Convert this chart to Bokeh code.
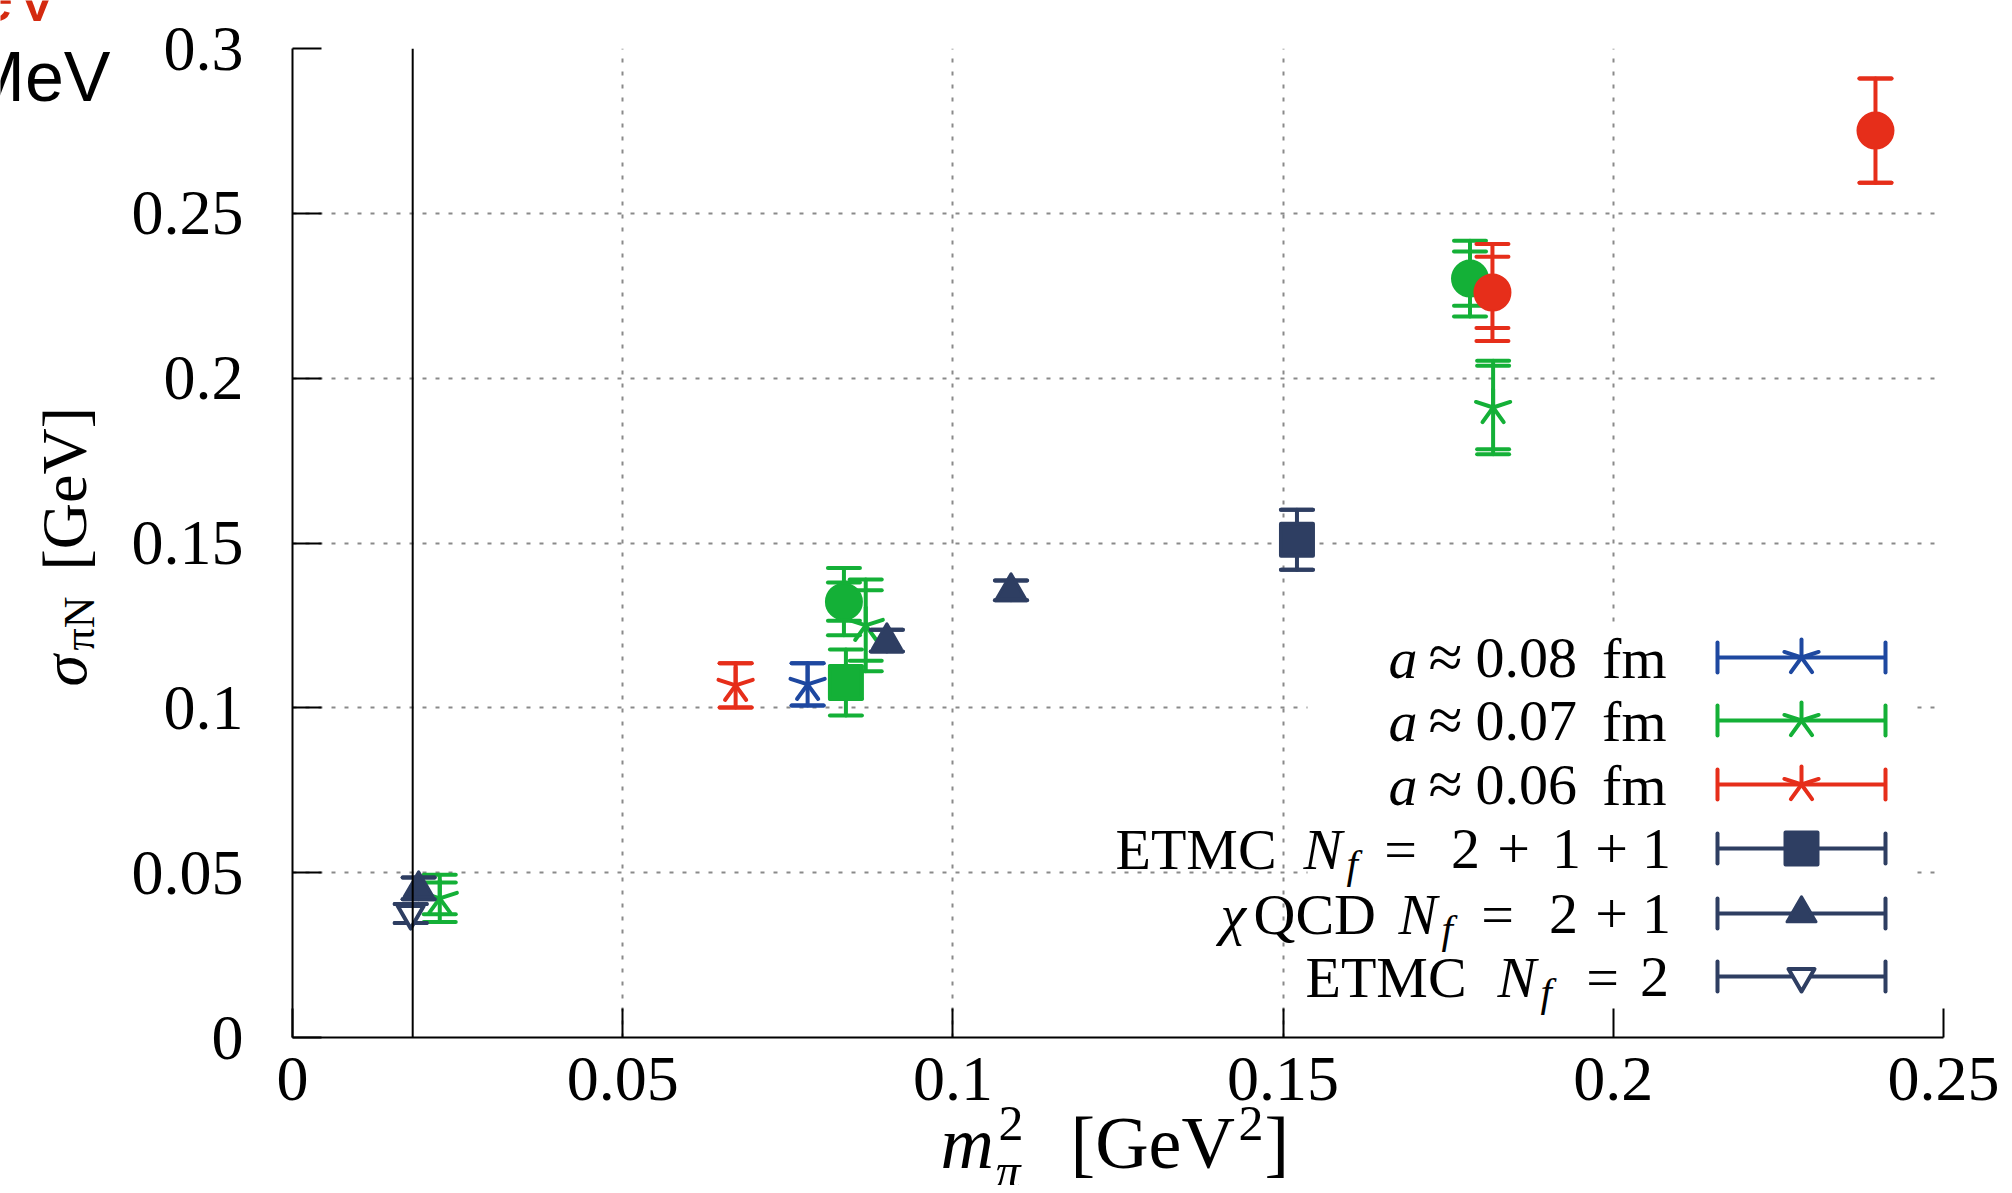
import numpy as np
from bokeh.plotting import figure
from bokeh.layouts import column
from bokeh.models import Label, Span, FixedTicker, Range1d, Plot
from bokeh.embed import file_html
from bokeh.resources import INLINE

# ---------------- data ----------------
# a ~ 0.08 fm (blue asterisks)
a008_x = [0.0780]
a008_y = [0.1071]
a008_err_stat = [0.0064]
a008_err_tot = [0.0064]

# a ~ 0.07 fm (green asterisks)
a007_x = [0.0223, 0.0868, 0.1818]
a007_y = [0.0422, 0.1250, 0.1911]
a007_err_stat = [0.0048, 0.0107, 0.0127]
a007_err_tot = [0.0072, 0.0139, 0.0142]

# a ~ 0.06 fm (red asterisks)
a006_x = [0.0671]
a006_y = [0.1068]
a006_err_stat = [0.0067]
a006_err_tot = [0.0067]

# green filled circles
gcirc_x = [0.0835, 0.1783]
gcirc_y = [0.1322, 0.2302]
gcirc_err_stat = [0.0058, 0.0082]
gcirc_err_tot = [0.0102, 0.0115]

# red filled circles
rcirc_x = [0.1817, 0.2397]
rcirc_y = [0.2260, 0.2751]
rcirc_err_stat = [0.0108, 0.0158]
rcirc_err_tot = [0.0147, 0.0158]

# green filled square
gsq_x = [0.0838]
gsq_y = [0.1077]
gsq_err_stat = [0.0050]
gsq_err_tot = [0.0100]

# ETMC Nf=2+1+1
etmc211_x = [0.1521]
etmc211_y = [0.1510]
etmc211_err = [0.0091]

# chiQCD Nf=2+1
chiqcd_x = [0.0191, 0.0900, 0.1088]
chiqcd_y = [0.0452, 0.1204, 0.1356]
chiqcd_err = [0.0033, 0.0033, 0.0030]

# ETMC Nf=2
etmc2_x = [0.0179]
etmc2_y = [0.0376]
etmc2_err = [0.0029]

PHYS_MPI2 = 0.0182

x_ticks = [0.0, 0.05, 0.1, 0.15, 0.2, 0.25]
x_tick_labels = ["0", "0.05", "0.1", "0.15", "0.2", "0.25"]
y_ticks = [0.0, 0.05, 0.1, 0.15, 0.2, 0.25, 0.3]
y_tick_labels = ["0", "0.05", "0.1", "0.15", "0.2", "0.25", "0.3"]

# ---------------- styling ----------------
BLUE = "#1e48a0"
GREEN = "#14b037"
RED = "#e62e1a"
NAVY = "#2e3e62"
SERIF = "Liberation Serif"
BL_SHIFT = 0.25   # compensation so that the anchor sits on the text baseline

W, H = 2004, 1185
# frame geometry (canvas pixels)
FL, FR, FB, FT = 292, 1943, 1037, 48
XMAX, YMAX = 0.25, 0.3


def rx(px):
    return (px - FL) / (FR - FL) * XMAX


def ry(py):
    return (FB - py) / (FB - FT) * YMAX


p = figure(frame_width=FR - FL, frame_height=FB - FT,
           min_border_left=FL, min_border_right=W - FR,
           min_border_top=FT, min_border_bottom=H - FB,
           x_range=Range1d(0, XMAX), y_range=Range1d(0, YMAX),
           output_backend="svg", toolbar_location=None)
p.outline_line_color = None
p.background_fill_color = "white"
p.border_fill_color = "white"

for ax, ticks, labels, standoff in ((p.xaxis, x_ticks, x_tick_labels, 20),
                                    (p.yaxis, y_ticks, y_tick_labels, 49)):
    ax.ticker = FixedTicker(ticks=ticks)
    ax.major_label_overrides = {t: l for t, l in zip(ticks, labels)}
    ax.axis_line_width = 2
    ax.axis_line_color = "black"
    ax.major_tick_line_width = 2
    ax.major_tick_line_color = "black"
    ax.major_tick_in = 29
    ax.major_tick_out = 0
    ax.minor_tick_line_color = None
    ax.major_label_text_font = SERIF
    ax.major_label_text_font_size = "64px"
    ax.major_label_text_color = "black"
    ax.major_label_standoff = standoff

p.xgrid.ticker = FixedTicker(ticks=x_ticks)
p.ygrid.ticker = FixedTicker(ticks=y_ticks)
for g in (p.xgrid, p.ygrid):
    g.grid_line_color = "#8a8a8a"
    g.grid_line_width = 2
    g.grid_line_dash = "4 9"

# legend background (white box hiding the grid)
p.quad(left=[rx(1307)], right=[rx(1913)], bottom=[0], top=[ry(628)],
       fill_color="white", line_color=None)

p.add_layout(Span(location=PHYS_MPI2, dimension="height",
                  line_color="black", line_width=2))


def errorbars(x, y, es, et, color):
    x = np.asarray(x, float)
    y = np.asarray(y, float)
    es = np.asarray(es, float)
    et = np.asarray(et, float)
    p.segment(x0=x, y0=y - et, x1=x, y1=y + et, line_color=color,
              line_width=4, line_cap="round")
    cx = np.concatenate([x, x, x, x])
    cy = np.concatenate([y + et, y - et, y + es, y - es])
    p.scatter(x=cx, y=cy, marker="dash", size=32, line_color=color,
              line_width=4, line_cap="round")


STAR_ANGLES = [90, 18, 162, 234, 306]


def asterisk(x, y, color):
    x = np.asarray(x, float)
    y = np.asarray(y, float)
    n = len(x)
    xs = np.repeat(x, len(STAR_ANGLES))
    ys = np.repeat(y, len(STAR_ANGLES))
    ang = np.tile(STAR_ANGLES, n)
    p.ray(x=xs, y=ys, length=18, length_units="screen", angle=ang,
          angle_units="deg", line_color=color, line_width=4, line_cap="round")


def marker(x, y, kind, color):
    if kind == "star":
        asterisk(x, y, color)
    elif kind == "circle":
        p.scatter(x=x, y=y, marker="circle", size=36, fill_color=color,
                  line_color=color, line_width=2)
    elif kind == "square":
        p.scatter(x=x, y=y, marker="square", size=32, fill_color=color,
                  line_color=color, line_width=4, line_join="round")
    elif kind == "triangle":
        p.scatter(x=x, y=y, marker="triangle", size=29, fill_color=color,
                  line_color=color, line_width=3, line_join="round")
    elif kind == "inverted_triangle":
        p.scatter(x=x, y=y, marker="inverted_triangle", size=26,
                  fill_color="white", line_color=color, line_width=4,
                  line_join="round")


series = [
    (a008_x, a008_y, a008_err_stat, a008_err_tot, BLUE, "star"),
    (a007_x, a007_y, a007_err_stat, a007_err_tot, GREEN, "star"),
    (a006_x, a006_y, a006_err_stat, a006_err_tot, RED, "star"),
    (gcirc_x, gcirc_y, gcirc_err_stat, gcirc_err_tot, GREEN, "circle"),
    (rcirc_x, rcirc_y, rcirc_err_stat, rcirc_err_tot, RED, "circle"),
    (gsq_x, gsq_y, gsq_err_stat, gsq_err_tot, GREEN, "square"),
    (etmc211_x, etmc211_y, etmc211_err, etmc211_err, NAVY, "square"),
    (etmc2_x, etmc2_y, etmc2_err, etmc2_err, NAVY, "inverted_triangle"),
    (chiqcd_x, chiqcd_y, chiqcd_err, chiqcd_err, NAVY, "triangle"),
]
for sx, sy, es, et, col, kind in series:
    errorbars(sx, sy, es, et, col)
    marker(sx, sy, kind, col)


def lab(fig, text, x, y, size, style="normal", align="left", font=SERIF,
        color="black", angle=0.0):
    if angle == 0.0:
        xo, yo = 0, BL_SHIFT * size
    else:
        xo, yo = -BL_SHIFT * size, 0
    fig.add_layout(Label(x=x, y=y, text=text, text_font=font,
                         text_font_size=f"{size}px", text_font_style=style,
                         text_align=align, text_baseline="alphabetic",
                         text_color=color, angle=angle,
                         x_offset=xo, y_offset=yo))


def plab(text, px, py, size, **kw):
    lab(p, text, rx(px), ry(py), size, **kw)


# ---------------- legend ----------------
legend_rows = [
    (BLUE, "star"), (GREEN, "star"), (RED, "star"),
    (NAVY, "square"), (NAVY, "triangle"), (NAVY, "inverted_triangle"),
]
row_centers = [657, 720, 784, 848, 913, 976]
LX0, LX1, LXM = 1717, 1885, 1801
for (col, kind), cy in zip(legend_rows, row_centers):
    p.segment(x0=[rx(LX0)], y0=[ry(cy)], x1=[rx(LX1)], y1=[ry(cy)],
              line_color=col, line_width=4)
    p.scatter(x=[rx(LX0), rx(LX1)], y=[ry(cy), ry(cy)], marker="dash",
              angle=np.pi / 2, size=30, line_color=col, line_width=4,
              line_cap="round")
    marker([rx(LXM)], [ry(cy)], kind, col)

LS = 58
SUB = 41
TR = 1666
base = [c + 15 for c in row_centers]
for i, spacing in enumerate(["0.08", "0.07", "0.06"]):
    plab("a", 1388, base[i], LS, style="italic")
    plab("\u2248", 1445, base[i], 62, align="center")
    plab(spacing, 1475, base[i], LS)
    plab("fm", TR, base[i], LS, align="right")

plab("ETMC", 1115, base[3], LS)
plab("N", 1303, base[3], LS, style="italic")
plab("f", 1346, base[3] + 11, SUB, style="italic")
for t, cx in (("=", 1400), ("2", 1465), ("+", 1513), ("1", 1566),
              ("+", 1611), ("1", 1656)):
    plab(t, cx, base[3], LS, align="center")

plab("\u03c7", 1220, base[4], LS, style="italic")
plab("QCD", 1253, base[4], LS)
plab("N", 1398, base[4], LS, style="italic")
plab("f", 1441, base[4] + 11, SUB, style="italic")
for t, cx in (("=", 1497), ("2", 1563), ("+", 1611), ("1", 1656)):
    plab(t, cx, base[4], LS, align="center")

plab("ETMC", 1305, base[5], LS)
plab("N", 1497, base[5], LS, style="italic")
plab("f", 1540, base[5] + 11, SUB, style="italic")
plab("=", 1602, base[5], LS, align="center")
plab("2", 1654, base[5], LS, align="center")

# ---------------- overlay for texts outside the frame ----------------
ov = figure(width=W, height=H, x_range=Range1d(0, W), y_range=Range1d(H, 0),
            x_axis_location=None, y_axis_location=None,
            min_border=0, output_backend="svg", toolbar_location=None,
            margin=(-H, 0, 0, 0))
ov.outline_line_color = None
ov.background_fill_color = None
ov.border_fill_color = None
ov.xgrid.visible = False
ov.ygrid.visible = False
if "frame_align" in Plot.properties():
    ov.frame_align = False
    p.frame_align = False

XL = 74
XB = 1161
lab(ov, "m", 940, XB, XL, style="italic")
lab(ov, "2", 998, XB - 26, 50)
lab(ov, "\u03c0", 995, XB + 22, 50, style="italic")
lab(ov, "[GeV", 1070, XB, XL)
lab(ov, "2", 1238, XB - 26, 50)
lab(ov, "]", 1264, XB, XL)

YL = 64
lab(ov, "\u03c3", 80, 686, YL, style="italic", angle=np.pi / 2)
lab(ov, "\u03c0N", 90, 650, 44, angle=np.pi / 2)
lab(ov, "[GeV]", 80, 570, YL, angle=np.pi / 2)

# cut-off slide texts at top-left
lab(ov, "MeV", 110, 94, 70, font="Liberation Sans", align="right")
lab(ov, "MeV", 60, 14, 70, font="Liberation Sans", align="right",
    color="#d42a10")

layout = column(p, ov, spacing=0)
open("out.html", "w").write(file_html(layout, INLINE))
